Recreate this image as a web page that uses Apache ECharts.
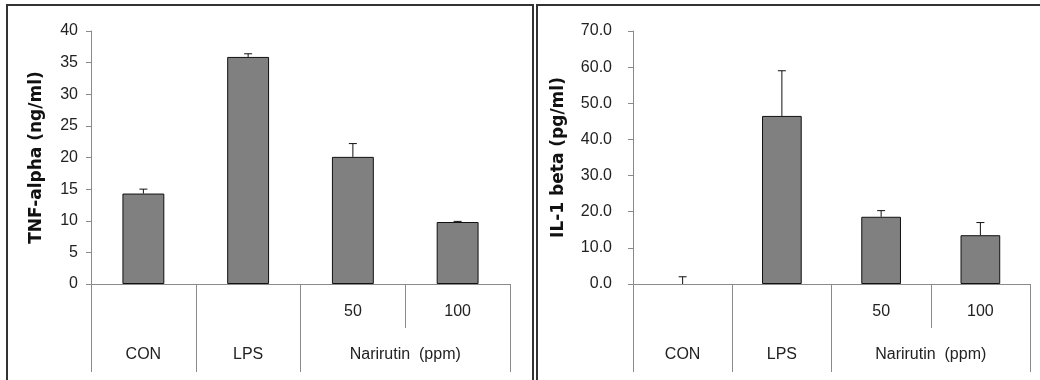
<!DOCTYPE html>
<html>
<head>
<meta charset="utf-8">
<script src="https://cdn.jsdelivr.net/npm/echarts@6/dist/echarts.min.js"></script>
<style>
html,body{margin:0;padding:0;background:#fff;}
#chart{width:1040px;height:380px;}
</style>
</head>
<body>
<div id="chart"></div>
<script>
// ---- data ----
const categories = ['CON', 'LPS', 'N50', 'N100'];
const tier1Labels = ['', '', '50', '100'];
const tier2Labels = ['CON', 'LPS', 'Narirutin  (ppm)'];
const tier2Spans = [1, 1, 2];

const tnfMean = [14.3, 35.9, 20.1, 9.8];
const tnfErr = [0.7, 0.5, 2.1, 0.1];
const ilMean = [0, 46.5, 18.6, 13.5];
const ilErr = [2.0, 12.5, 1.7, 3.5];

const tnfTicks = { min: 0, max: 40, interval: 5 };
const ilTicks = { min: 0, max: 70, interval: 10 };

// ---- helpers ----
const AXIS = '#8a8a8a';
const TXT = '#222';
const LABEL_FONT = '"Liberation Sans Narrow", "Liberation Sans", Arial, sans-serif';

const t2Edges = [0];
tier2Spans.forEach((s, i) => t2Edges.push(t2Edges[i] + s));
const t2Centers = tier2Spans.map((s, i) => t2Edges[i] + s / 2);

function xAxesFor(gridIndex) {
  return [
    {
      type: 'category', gridIndex, data: categories, position: 'bottom',
      boundaryGap: true,
      axisLine: { show: true, lineStyle: { color: AXIS, width: 1 } },
      axisTick: { show: true, interval: 0, alignWithLabel: false, length: 44, lineStyle: { color: AXIS } },
      axisLabel: {
        show: true, interval: 0, margin: 20, color: TXT, fontSize: 16, fontFamily: LABEL_FONT,
        formatter: (v, i) => tier1Labels[i]
      },
      splitLine: { show: false }
    },
    {
      type: 'value', gridIndex, position: 'bottom', offset: 44,
      min: 0, max: categories.length,
      axisLine: { show: false },
      splitLine: { show: false },
      axisTick: { show: true, customValues: t2Edges, length: 44, lineStyle: { color: AXIS } },
      axisLabel: {
        show: true, customValues: t2Centers, margin: 19, color: TXT, fontSize: 16, fontFamily: LABEL_FONT,
        formatter: (v) => {
          const i = t2Centers.findIndex(c => Math.abs(c - v) < 1e-6);
          return i >= 0 ? tier2Labels[i] : '';
        }
      }
    }
  ];
}

function yAxisFor(gridIndex, ticks, name, nameGap, margin, digits) {
  return {
    type: 'value', gridIndex, min: ticks.min, max: ticks.max, interval: ticks.interval,
    name, nameLocation: 'middle', nameGap,
    nameTextStyle: { fontFamily: '"DejaVu Sans", sans-serif', fontWeight: 'bold', fontSize: 17, color: '#111' },
    axisLine: { show: true, lineStyle: { color: AXIS, width: 1 } },
    axisTick: { show: true, length: 5, lineStyle: { color: AXIS } },
    axisLabel: { margin, color: TXT, fontSize: 16, fontFamily: LABEL_FONT,
      formatter: v => v.toFixed(digits) },
    splitLine: { show: false }
  };
}

function barSeries(xIdx, yIdx, data) {
  return {
    type: 'bar', xAxisIndex: xIdx, yAxisIndex: yIdx,
    data: data.map(v => (v === 0 ? { value: v, itemStyle: { borderWidth: 0 } } : v)),
    barWidth: '40%',
    itemStyle: { color: '#808080', borderColor: '#111', borderWidth: 1 },
    silent: true
  };
}

function errSeries(xIdx, yIdx, mean, err) {
  return {
    type: 'custom', xAxisIndex: xIdx, yAxisIndex: yIdx,
    data: mean.map((m, i) => [i, m, m + err[i]]),
    renderItem: (params, api) => {
      const x = api.value(0);
      const p0 = api.coord([x, api.value(1)]);
      const p1 = api.coord([x, api.value(2)]);
      const cap = 4;
      const style = { stroke: '#111', lineWidth: 1 };
      return {
        type: 'group',
        children: [
          { type: 'line', shape: { x1: p0[0], y1: p0[1], x2: p1[0], y2: p1[1] }, style },
          { type: 'line', shape: { x1: p1[0] - cap, y1: p1[1], x2: p1[0] + cap, y2: p1[1] }, style }
        ]
      };
    },
    z: 5, silent: true
  };
}

const chart = echarts.init(document.getElementById('chart'), null, { renderer: 'canvas' });
chart.setOption({
  animation: false,
  backgroundColor: '#fff',
  graphic: [
    { type: 'rect', shape: { x: 7, y: 5, width: 526, height: 400 }, style: { fill: 'none', stroke: '#333', lineWidth: 2 }, silent: true },
    { type: 'rect', shape: { x: 537, y: 5, width: 520, height: 400 }, style: { fill: 'none', stroke: '#333', lineWidth: 2 }, silent: true }
  ],
  grid: [
    { left: 91, right: 530, top: 31, bottom: 96 },
    { left: 633, right: 10, top: 31, bottom: 96 }
  ],
  xAxis: [...xAxesFor(0), ...xAxesFor(1)],
  yAxis: [
    yAxisFor(0, tnfTicks, 'TNF-alpha (ng/ml)', 46, 13, 0),
    yAxisFor(1, ilTicks, 'IL-1 beta (pg/ml)', 66, 21, 1)
  ],
  series: [
    barSeries(0, 0, tnfMean),
    errSeries(0, 0, tnfMean, tnfErr),
    barSeries(2, 1, ilMean),
    errSeries(2, 1, ilMean, ilErr)
  ]
});
</script>
</body>
</html>
